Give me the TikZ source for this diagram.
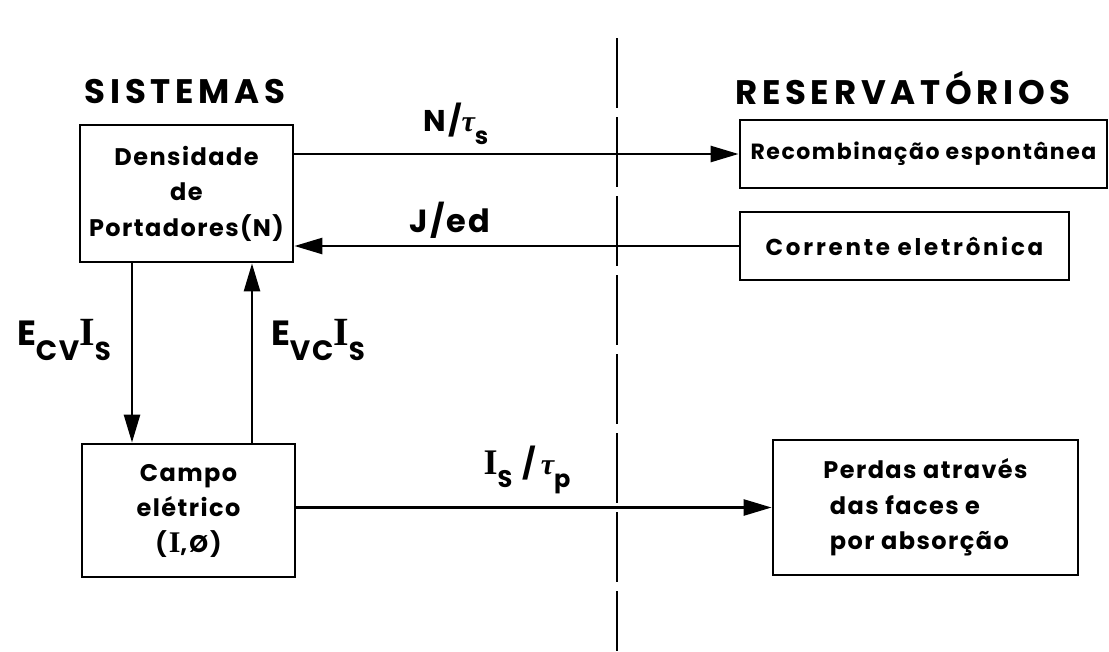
\documentclass[tikz,border=0pt]{standalone}
\usepackage{fontspec}
\setmainfont{Poppins}[LetterSpace=6]
\newfontfamily\titlefont{Poppins}[LetterSpace=14]
\newfontfamily\serI{Liberation Serif}
\usetikzlibrary{arrows.meta}
\newcommand\lowsub[2]{\raisebox{-0.42em}{\fontsize{#1}{#1}\selectfont #2}}
\newcommand\tauch{{\serI\itshape\bfseries τ}}
\newcommand\romI[1]{{\serI\bfseries\fontsize{#1}{#1}\selectfont I}}
\tikzset{
  box/.style={draw, line width=2.8pt, inner sep=0pt, align=center,
    font=\bfseries\fontsize{24}{35.5}\selectfont},
  arr/.style={line width=2.6pt, -{Triangle[length=28pt,width=16pt]}},
  title/.style={inner sep=0pt, font=\titlefont\bfseries\fontsize{34}{34}\selectfont},
  lbl/.style={inner sep=0pt, font=\bfseries\fontsize{30}{30}\selectfont},
  divider/.style={line width=2pt, dash pattern=on 70pt off 9pt}
}
\begin{document}
\begin{tikzpicture}[x=1pt,y=-1pt]
\useasboundingbox (0,0) rectangle (1109,651);

% titles
\node[title] (sis) at (185,92) {SISTEMAS};
\node[title] (res) at (903,88) {RESERVATÓRIOS};

% divider
\coordinate (dtop) at (617,38);
\coordinate (dbot) at (617,651);
\draw[divider] (dtop) -- (dbot);

% boxes
\node[box, minimum width=213pt, minimum height=137pt] (dens) at (186.5,193.5)
  {Densidade\\de\\Portadores(N)};
\node[box, minimum width=213pt, minimum height=133pt] (campo) at (188.5,510.5)
  {Campo\\elétrico\\(\kern2pt\romI{30},\kern2pt Ø\kern2pt)};
\node[box, minimum width=367pt, minimum height=68pt,
  font=\bfseries\fontsize{22}{30}\selectfont\addfontfeatures{LetterSpace=7}] (recomb) at (923.5,154)
  {Recombinação espontânea};
\node[box, minimum width=329pt, minimum height=68pt,
  font=\bfseries\fontsize{23}{30}\selectfont\addfontfeatures{LetterSpace=12}] (corr) at (904.5,246)
  {Corrente eletrônica};
\node[box, minimum width=305pt, minimum height=135pt, align=left] (perdas) at (925.5,507.5)
  {Perdas através\\\ das faces e\\\ por absorção};

% connectors
\draw[arr] (recomb.west -| dens.east) -- (recomb.west);
\draw[arr] (corr.west) -- (corr.west -| dens.east);
\draw[arr] ([xshift=-54.5pt]dens.south) -- ([xshift=-54.5pt]dens.south |- campo.north);
\draw[arr] ([xshift=63.5pt]campo.north) -- ([xshift=63.5pt]campo.north |- dens.south);
\draw[arr] (perdas.west -| campo.east) -- (perdas.west);

% labels
\node[lbl] (lns) at (456,124) {N/\tauch\lowsub{24}{s}};
\node[lbl, font=\bfseries\fontsize{32}{32}\selectfont] (lje) at (450,220) {J/ed};
\node[lbl, font=\bfseries\fontsize{35}{35}\selectfont] (lecv) at (64,340)
  {E\lowsub{28}{CV}\romI{40}\lowsub{26}{S}};
\node[lbl, font=\bfseries\fontsize{35}{35}\selectfont] (levc) at (318,340)
  {E\lowsub{28}{VC}\romI{40}\lowsub{26}{S}};
\node[lbl] (lis) at (527,470) {\romI{36}\lowsub{24}{S}\,\,/\,\tauch\lowsub{24}{p}};
\end{tikzpicture}
\end{document}
